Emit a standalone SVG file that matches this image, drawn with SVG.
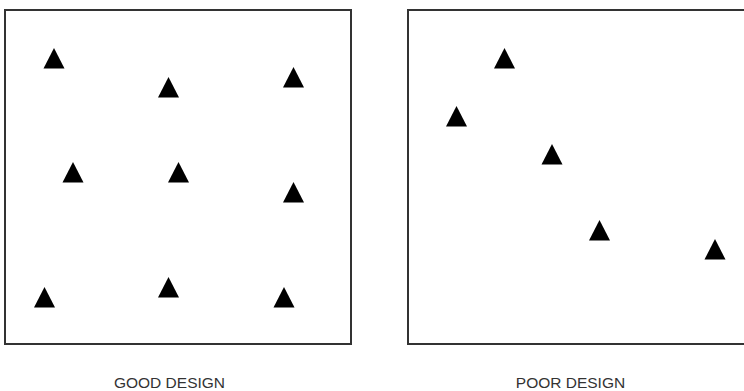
<svg xmlns="http://www.w3.org/2000/svg" xmlns:xlink="http://www.w3.org/1999/xlink" width="744" height="391" viewBox="0 0 744 391">
  <style>
    .panel { fill: #ffffff; stroke: #333333; stroke-width: 2; }
    .tri { fill: #000000; }
    .label { font-family: "Liberation Sans", Arial, sans-serif; font-size: 15.5px; fill: #333333; text-anchor: middle; }
  </style>
  <defs>
    <path id="tri" class="tri" d="M0,0 L10.5,20.5 L-10.5,20.5 Z"/>
  </defs>
  <rect width="744" height="391" fill="#ffffff"/>
  <g id="good-design">
    <rect class="panel" x="5" y="10" width="346" height="334"/>
    <g id="good-t1"><use xlink:href="#tri" href="#tri" x="54" y="48"/></g>
    <g id="good-t2"><use xlink:href="#tri" href="#tri" x="168.5" y="77"/></g>
    <g id="good-t3"><use xlink:href="#tri" href="#tri" x="293.5" y="67"/></g>
    <g id="good-t4"><use xlink:href="#tri" href="#tri" x="73" y="162"/></g>
    <g id="good-t5"><use xlink:href="#tri" href="#tri" x="178.5" y="162"/></g>
    <g id="good-t6"><use xlink:href="#tri" href="#tri" x="293.5" y="182"/></g>
    <g id="good-t7"><use xlink:href="#tri" href="#tri" x="44.5" y="287"/></g>
    <g id="good-t8"><use xlink:href="#tri" href="#tri" x="168.5" y="277"/></g>
    <g id="good-t9"><use xlink:href="#tri" href="#tri" x="284" y="287"/></g>
    <text class="label" x="169.5" y="388">GOOD DESIGN</text>
  </g>
  <g id="poor-design">
    <rect class="panel" x="408" y="10" width="350" height="334"/>
    <g id="poor-t1"><use xlink:href="#tri" href="#tri" x="504.5" y="48"/></g>
    <g id="poor-t2"><use xlink:href="#tri" href="#tri" x="456.5" y="106"/></g>
    <g id="poor-t3"><use xlink:href="#tri" href="#tri" x="552" y="144"/></g>
    <g id="poor-t4"><use xlink:href="#tri" href="#tri" x="599.5" y="220"/></g>
    <g id="poor-t5"><use xlink:href="#tri" href="#tri" x="715" y="239"/></g>
    <text class="label" x="570.5" y="388">POOR DESIGN</text>
  </g>
</svg>
